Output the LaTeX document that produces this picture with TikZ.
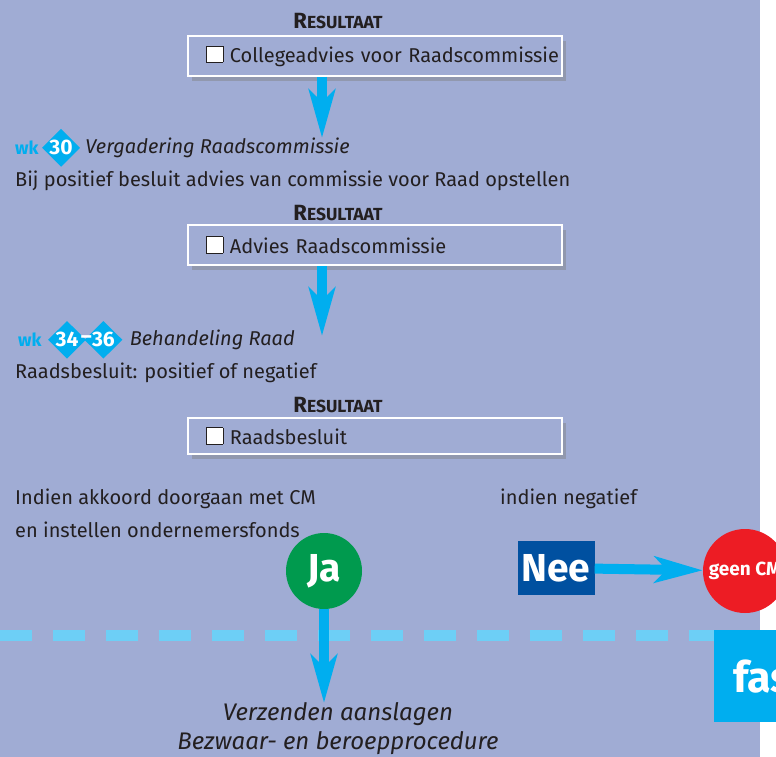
\documentclass[tikz,border=0pt]{standalone}
\usepackage{fontspec}
\setmainfont{Fira Sans}
\usetikzlibrary{arrows.meta,shapes.geometric,shadows,positioning}
\definecolor{lavendel}{HTML}{A0ACD4}
\definecolor{cyaan}{HTML}{00AEEF}
\definecolor{lichtcyaan}{HTML}{6DCFF6}
\definecolor{groen}{HTML}{009A4E}
\definecolor{donkerblauw}{HTML}{0050A0}
\definecolor{rood}{HTML}{ED1C24}
\definecolor{tekst}{HTML}{231F20}
\setlength\fboxsep{0pt}
\setlength\fboxrule{0.6pt}
\newcommand\vakje{\fcolorbox{tekst}{white}{\rule{0pt}{16pt}\hspace{16pt}}} % empty check box
\newcommand\resultaat{{\fontsize{22}{24}\selectfont R}{\fontsize{17.5}{20}\selectfont ESULTAAT}}
\tikzset{x=1pt, y=-1pt, % one unit is one pixel of the drawing
every node/.style={text=tekst, inner sep=1pt, font=\fontsize{20}{24}\selectfont},
result/.style={draw=white, line width=2pt, fill=lavendel, minimum width=374pt, minimum height=40pt, text width=338pt, inner xsep=18pt, inner ysep=0pt, align=left, drop shadow={opacity=0.45, shadow xshift=4pt, shadow yshift=-5pt}}, % the result boxes
kop/.style={font=\bfseries}, % the RESULTAAT labels
week/.style={text=cyaan, font=\bfseries\fontsize{18}{20}\selectfont},
ruit/.style={diamond, fill=cyaan, text=white, inner sep=0pt, minimum width=38pt, minimum height=31pt, font=\bfseries\fontsize{21}{24}\selectfont},
titel/.style={font=\itshape\fontsize{20}{24}\selectfont},
pijl/.style={cyaan, line width=10pt, -{Stealth[length=48pt, width=26pt, inset=12pt]}}, % the thick blue arrows
knop/.style={text=white, inner sep=0pt, font=\bfseries\fontsize{39}{44}\selectfont},
}

\begin{document}
\begin{tikzpicture}
\fill[lavendel] (0,0) rectangle (760,757);
\useasboundingbox (0,0) rectangle (776,757);
\node[kop] (r1) at (338,21) {\resultaat};
\node[result] (b1) at (375,56) {\mbox{\vakje\ Collegeadvies voor Raadscommissie}};
\coordinate (p1) at (322,138);
\node[week, anchor=mid west] (wk1) at (14,152) {wk};
\node[ruit, right=2pt of wk1] (d30) {30};
\node[titel, right=4pt of d30] (t1) {Vergadering Raadscommissie};
\node[anchor=mid west] (s1) at (14,184) {Bij positief besluit advies van commissie voor Raad opstellen};
\node[kop] (r2) at (338,213) {\resultaat};
\node[result] (b2) at (375,245) {\mbox{\vakje\ Advies Raadscommissie}};
\coordinate (p2) at (322,336);
\node[week, anchor=mid west] (wk2) at (17,344) {wk};
\node[ruit, right=5pt of wk2] (d34) {34};
\node[ruit, right=-2pt of d34] (d36) {36};
\node[text=white, font=\bfseries\fontsize{21}{24}\selectfont, inner sep=0pt] (streep) at (d34.east) {–};
\node[titel, right=6pt of d36] (t2) {Behandeling Raad};
\node[anchor=mid west] (s2) at (14,376) {Raadsbesluit: positief of negatief};
\node[kop] (r3) at (338,405) {\resultaat};
\node[result, minimum height=36pt] (b3) at (375,436) {\mbox{\vakje\ Raadsbesluit}};
\node[anchor=mid west] (s3) at (14,502) {Indien akkoord doorgaan met CM};
\node[anchor=mid west] (s4) at (14,535) {en instellen ondernemersfonds};
\node[anchor=mid west] (s5) at (499,502) {indien negatief};
\draw[lichtcyaan, line width=11pt, dash pattern=on 32pt off 21pt] (0,635) -- (776,635);
\node[knop, circle, fill=groen, minimum size=76pt] (ja) at (324,571) {Ja};
\node[knop, fill=donkerblauw, minimum width=77pt, minimum height=54pt] (nee) at (556,568) {Nee};
\node[circle, fill=rood, text=white, minimum size=84pt, inner sep=0pt, font=\bfseries\fontsize{19}{22}\selectfont] (geen) at (745,571) {geen CM};
\node[knop, fill=cyaan, minimum width=90pt, minimum height=92pt, anchor=north west, text width=80pt, align=left, inner xsep=19pt, font=\bfseries\fontsize{43}{46}\selectfont] (fase) at (714,630) {fas};
\coordinate (p3) at (324,703);
\node[titel, font=\itshape\fontsize{24}{28}\selectfont] (v1) at (338,714) {Verzenden aanslagen};
\node[titel, font=\itshape\fontsize{24}{28}\selectfont] (v2) at (338,743) {Bezwaar- en beroepprocedure};
\draw[pijl] (b1.south -| p1) -- (p1);
\draw[pijl] (b2.south -| p2) -- (p2);
\draw[pijl] (ja) -- (p3);
\draw[pijl] (nee) -- (geen);
\end{tikzpicture}
\end{document}
